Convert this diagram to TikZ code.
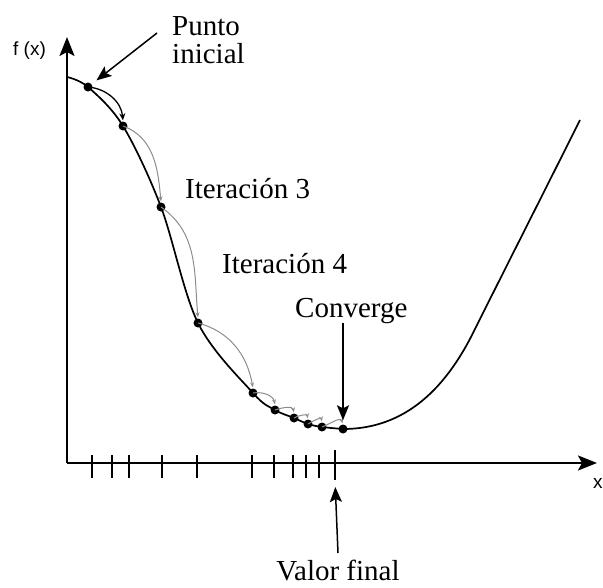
\documentclass[tikz,border=0pt]{standalone}
\usepackage{fontspec}
\setmainfont{Liberation Serif}
\newfontfamily\labsans{Liberation Sans}
\usetikzlibrary{arrows.meta}
\begin{document}
\begin{tikzpicture}[x=1pt,y=-1pt,
  lab/.style={font=\fontsize{29}{29}\selectfont, inner sep=0pt, anchor=base west},
  axlab/.style={font=\labsans\fontsize{19}{19}\selectfont, inner sep=0pt, anchor=base west},
  dot/.style={circle, fill=black, inner sep=0pt, minimum size=9pt},
  axisline/.style={line width=2.2pt, -{Stealth[length=19pt,width=15pt,inset=4pt]}},
  tickmark/.style={line width=1.8pt},
  fcurve/.style={line width=1.7pt},
  pointer/.style={line width=1.5pt, -{Stealth[length=15pt,width=12pt,inset=3pt]}},
  grayarc/.style={line width=1pt, draw=black!45, -{Stealth[length=5pt,width=4pt]}, shorten >=1pt},
  blackarc/.style={line width=1.3pt, -{Stealth[length=7pt,width=6pt]}, shorten >=1pt}]
\useasboundingbox (0,0) rectangle (603,587);
% axes
\coordinate (o) at (67,463);
\coordinate (ytip) at (67,37);
\coordinate (xtip) at (597,463);
\draw[axisline] (o) -- (ytip);
\draw[axisline] (o) -- (xtip);
\node[axlab] (fx) at (13,55) {f (x)};
\node[axlab] (xl) at (593,488) {x};
% ticks
\foreach \t in {92,112,129,162,197,252,274,293,306,319}{
  \draw[tickmark] (\t,455) -- (\t,478);
}
\coordinate (tkt) at (335,450);
\coordinate (tkb) at (335,480);
\draw[tickmark] (tkt) -- (tkb);
% points
\coordinate (s) at (67,77);
\node[dot] (p1) at (88,87) {};
\node[dot] (p2) at (123,126) {};
\node[dot] (p3) at (161,207) {};
\node[dot] (p4) at (198,323) {};
\node[dot] (p5) at (253,393) {};
\node[dot] (p6) at (275,410) {};
\node[dot] (p7) at (294,418) {};
\node[dot] (p8) at (308,424) {};
\node[dot] (p9) at (322,427) {};
\node[dot] (p10) at (343,429) {};
\coordinate (r4) at (473,333);
\coordinate (r6) at (580,120);
% curve
\draw[fcurve] plot[smooth, tension=0.55] coordinates {(s) (p1.center) (p2.center) (p3.center) (p4.center) (p5.center) (p6.center) (p7.center) (p8.center) (p9.center) (p10.center)}
  .. controls (393,429) and (438,403) .. (r4)
  .. controls (510,259) and (545,190) .. (r6);
% iteration arcs
\draw[blackarc] (p1.center) to[out=-5,in=95] (p2.north);
\draw[grayarc] (p2.center) to[out=-20,in=95] (p3.north);
\draw[grayarc] (p3.center) to[out=-35,in=95] (p4.north);
\draw[grayarc] (p4.center) to[out=-15,in=100] (p5.north);
\draw[grayarc] (p5.center) to[out=10,in=100] (p6.north);
\draw[grayarc] (p6.center) to[out=20,in=100] (p7.north);
\draw[grayarc] (p7.center) to[out=30,in=100] (p8.north);
\draw[grayarc] (p8.center) to[out=30,in=100] (p9.north);
\draw[grayarc] (p9.center) to[out=20,in=110] (p10.north);
% labels
\node[lab] (punto) at (172,35) {Punto};
\node[lab] (inicial) at (172,63) {inicial};
\node[lab] (it3) at (185,198) {Iteración 3};
\node[lab] (it4) at (222,273) {Iteración 4};
\node[lab] (conv) at (295,317) {Converge};
\node[lab, anchor=base] (vf) at (338,580) {Valor final};
% pointers
\coordinate (pa) at (157,33);
\draw[pointer, shorten >=6pt] (pa) -- (p1);
\coordinate (ca) at (343,323);
\draw[pointer, shorten >=4pt] (ca) -- (p10);
\coordinate (va) at (338,553);
\draw[pointer, shorten >=7pt] (va) -- (tkb);
\end{tikzpicture}
\end{document}
